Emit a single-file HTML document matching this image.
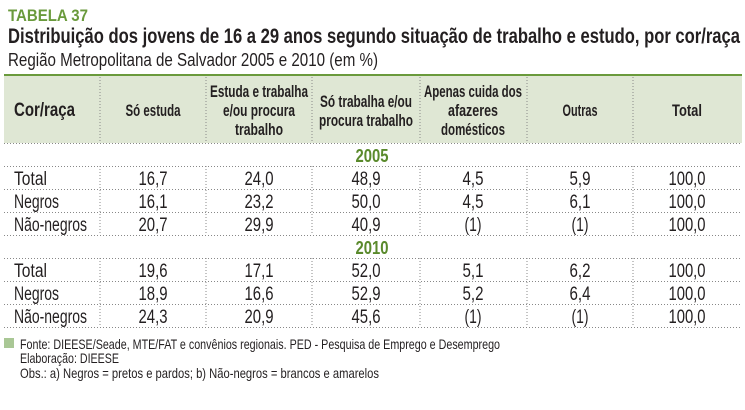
<!DOCTYPE html>
<html><head><meta charset="utf-8"><style>html,body{margin:0;padding:0;background:#fff}</style></head><body>
<svg width="745" height="405" xmlns="http://www.w3.org/2000/svg" font-family="Liberation Sans, sans-serif">
<text x="8" y="21" font-size="17" font-weight="bold" fill="#6a9a3c" textLength="80" lengthAdjust="spacingAndGlyphs">TABELA 37</text>
<text x="8" y="43" font-size="21" font-weight="bold" fill="#231f20" textLength="732" lengthAdjust="spacingAndGlyphs">Distribuição dos jovens de 16 a 29 anos segundo situação de trabalho e estudo, por cor/raça</text>
<text x="8" y="66" font-size="18" fill="#231f20" textLength="370" lengthAdjust="spacingAndGlyphs">Região Metropolitana de Salvador 2005 e 2010 (em %)</text>
<rect x="4" y="76" width="738" height="67" fill="#dfe7d4"/>
<line x1="4" y1="75" x2="742" y2="75" stroke="#6a9a3c" stroke-width="2"/>
<g stroke="#888" stroke-width="1" stroke-dasharray="1,2">
<line x1="100" y1="77" x2="100" y2="143"/><line x1="206" y1="77" x2="206" y2="143"/><line x1="312" y1="77" x2="312" y2="143"/><line x1="420" y1="77" x2="420" y2="143"/><line x1="527" y1="77" x2="527" y2="143"/><line x1="633" y1="77" x2="633" y2="143"/>
<line x1="100" y1="166" x2="100" y2="235"/><line x1="206" y1="166" x2="206" y2="235"/><line x1="312" y1="166" x2="312" y2="235"/><line x1="420" y1="166" x2="420" y2="235"/><line x1="527" y1="166" x2="527" y2="235"/><line x1="633" y1="166" x2="633" y2="235"/>
<line x1="100" y1="258" x2="100" y2="327"/><line x1="206" y1="258" x2="206" y2="327"/><line x1="312" y1="258" x2="312" y2="327"/><line x1="420" y1="258" x2="420" y2="327"/><line x1="527" y1="258" x2="527" y2="327"/><line x1="633" y1="258" x2="633" y2="327"/>
<line x1="4" y1="143.5" x2="742" y2="143.5"/><line x1="4" y1="166.5" x2="742" y2="166.5"/><line x1="4" y1="189.5" x2="742" y2="189.5"/><line x1="4" y1="212.5" x2="742" y2="212.5"/><line x1="4" y1="235.5" x2="742" y2="235.5"/><line x1="4" y1="258.5" x2="742" y2="258.5"/><line x1="4" y1="281.5" x2="742" y2="281.5"/><line x1="4" y1="304.5" x2="742" y2="304.5"/><line x1="4" y1="327.5" x2="742" y2="327.5"/>
</g>
<g font-size="17" font-weight="bold" fill="#231f20" text-anchor="middle">
<text x="14" y="116" text-anchor="start" font-size="19" textLength="61" lengthAdjust="spacingAndGlyphs">Cor/raça</text>
<text x="153" y="116" textLength="55" lengthAdjust="spacingAndGlyphs">Só estuda</text>
<text x="259" y="97" textLength="98" lengthAdjust="spacingAndGlyphs">Estuda e trabalha</text>
<text x="259" y="116" textLength="72" lengthAdjust="spacingAndGlyphs">e/ou procura</text>
<text x="259" y="135" textLength="48" lengthAdjust="spacingAndGlyphs">trabalho</text>
<text x="366" y="107" textLength="92" lengthAdjust="spacingAndGlyphs">Só trabalha e/ou</text>
<text x="366" y="126" textLength="94" lengthAdjust="spacingAndGlyphs">procura trabalho</text>
<text x="473" y="97" textLength="98" lengthAdjust="spacingAndGlyphs">Apenas cuida dos</text>
<text x="473" y="116" textLength="50" lengthAdjust="spacingAndGlyphs">afazeres</text>
<text x="473" y="135" textLength="64" lengthAdjust="spacingAndGlyphs">domésticos</text>
<text x="580" y="116" textLength="35" lengthAdjust="spacingAndGlyphs">Outras</text>
<text x="687" y="116" textLength="30" lengthAdjust="spacingAndGlyphs">Total</text>
<text x="372" y="162" fill="#5a8a2c" font-size="18" textLength="33" lengthAdjust="spacingAndGlyphs">2005</text>
<text x="372" y="254" fill="#5a8a2c" font-size="18" textLength="33" lengthAdjust="spacingAndGlyphs">2010</text>
</g>
<g font-size="19" fill="#231f20" text-anchor="middle" lengthAdjust="spacingAndGlyphs">
<g transform="translate(0,185)">
<text x="14" text-anchor="start" textLength="33" lengthAdjust="spacingAndGlyphs">Total</text>
<text x="153" textLength="29" lengthAdjust="spacingAndGlyphs">16,7</text><text x="259" textLength="29" lengthAdjust="spacingAndGlyphs">24,0</text><text x="366" textLength="29" lengthAdjust="spacingAndGlyphs">48,9</text><text x="473" textLength="21" lengthAdjust="spacingAndGlyphs">4,5</text><text x="580" textLength="21" lengthAdjust="spacingAndGlyphs">5,9</text><text x="687" textLength="37" lengthAdjust="spacingAndGlyphs">100,0</text></g>
<g transform="translate(0,208)">
<text x="14" text-anchor="start" textLength="45" lengthAdjust="spacingAndGlyphs">Negros</text>
<text x="153" textLength="29" lengthAdjust="spacingAndGlyphs">16,1</text><text x="259" textLength="29" lengthAdjust="spacingAndGlyphs">23,2</text><text x="366" textLength="29" lengthAdjust="spacingAndGlyphs">50,0</text><text x="473" textLength="21" lengthAdjust="spacingAndGlyphs">4,5</text><text x="580" textLength="21" lengthAdjust="spacingAndGlyphs">6,1</text><text x="687" textLength="37" lengthAdjust="spacingAndGlyphs">100,0</text></g>
<g transform="translate(0,231)">
<text x="14" text-anchor="start" textLength="73" lengthAdjust="spacingAndGlyphs">Não-negros</text>
<text x="153" textLength="29" lengthAdjust="spacingAndGlyphs">20,7</text><text x="259" textLength="29" lengthAdjust="spacingAndGlyphs">29,9</text><text x="366" textLength="29" lengthAdjust="spacingAndGlyphs">40,9</text><text x="473" textLength="17" lengthAdjust="spacingAndGlyphs">(1)</text><text x="580" textLength="17" lengthAdjust="spacingAndGlyphs">(1)</text><text x="687" textLength="37" lengthAdjust="spacingAndGlyphs">100,0</text></g>
<g transform="translate(0,277)">
<text x="14" text-anchor="start" textLength="33" lengthAdjust="spacingAndGlyphs">Total</text>
<text x="153" textLength="29" lengthAdjust="spacingAndGlyphs">19,6</text><text x="259" textLength="29" lengthAdjust="spacingAndGlyphs">17,1</text><text x="366" textLength="29" lengthAdjust="spacingAndGlyphs">52,0</text><text x="473" textLength="21" lengthAdjust="spacingAndGlyphs">5,1</text><text x="580" textLength="21" lengthAdjust="spacingAndGlyphs">6,2</text><text x="687" textLength="37" lengthAdjust="spacingAndGlyphs">100,0</text></g>
<g transform="translate(0,300)">
<text x="14" text-anchor="start" textLength="45" lengthAdjust="spacingAndGlyphs">Negros</text>
<text x="153" textLength="29" lengthAdjust="spacingAndGlyphs">18,9</text><text x="259" textLength="29" lengthAdjust="spacingAndGlyphs">16,6</text><text x="366" textLength="29" lengthAdjust="spacingAndGlyphs">52,9</text><text x="473" textLength="21" lengthAdjust="spacingAndGlyphs">5,2</text><text x="580" textLength="21" lengthAdjust="spacingAndGlyphs">6,4</text><text x="687" textLength="37" lengthAdjust="spacingAndGlyphs">100,0</text></g>
<g transform="translate(0,323)">
<text x="14" text-anchor="start" textLength="73" lengthAdjust="spacingAndGlyphs">Não-negros</text>
<text x="153" textLength="29" lengthAdjust="spacingAndGlyphs">24,3</text><text x="259" textLength="29" lengthAdjust="spacingAndGlyphs">20,9</text><text x="366" textLength="29" lengthAdjust="spacingAndGlyphs">45,6</text><text x="473" textLength="17" lengthAdjust="spacingAndGlyphs">(1)</text><text x="580" textLength="17" lengthAdjust="spacingAndGlyphs">(1)</text><text x="687" textLength="37" lengthAdjust="spacingAndGlyphs">100,0</text></g>
</g>
<rect x="4" y="338" width="10" height="10" fill="#a9c795"/>
<g font-size="14" fill="#231f20">
<text x="20" y="349" textLength="480" lengthAdjust="spacingAndGlyphs">Fonte: DIEESE/Seade, MTE/FAT e convênios regionais. PED - Pesquisa de Emprego e Desemprego</text>
<text x="20" y="363" textLength="99" lengthAdjust="spacingAndGlyphs">Elaboração: DIEESE</text>
<text x="20" y="378" textLength="359" lengthAdjust="spacingAndGlyphs">Obs.: a) Negros = pretos e pardos; b) Não-negros = brancos e amarelos</text>
</g>
</svg>
</body></html>
